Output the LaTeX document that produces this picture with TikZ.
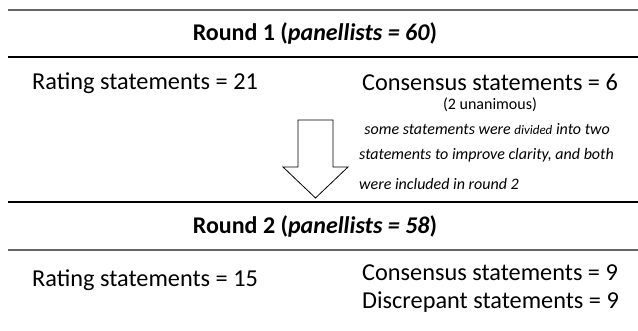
\documentclass[tikz,border=0pt]{standalone}
\usepackage{fontspec}
\setmainfont{Carlito}
\usetikzlibrary{positioning}

\begin{document}
\begin{tikzpicture}[
    x=1pt, y=-1pt,
    title/.style={font=\fontsize{24}{28}\selectfont\bfseries, inner sep=0pt},
    stat/.style={font=\fontsize{24.3}{28}\selectfont, inner sep=0pt},
    note/.style={font=\fontsize{16}{19}\selectfont\itshape, inner sep=0pt},
    rule/.style={line width=1.6pt},
    greyrule/.style={line width=2pt, gray!80!black}
]
\useasboundingbox (0,0) rectangle (638,331);

% round 1
\draw[greyrule] (8,10) -- (638,10);
\node[title] (round1) at (315,33) {Round 1 (\textit{panellists = 60})};
\draw[rule] (8,57) -- (638,57);

\node[stat, anchor=west] (rating1) at (32,83) {Rating statements = 21};
\node[stat, anchor=west] (cons1) at (362,82) {Consensus statements = 6};
\node[font=\fontsize{16}{18}\selectfont, inner sep=0pt] (unan) at (490,105) {(2 unanimous)};
\node[note, anchor=east] (note1) at (610,129) {some statements were {\fontsize{13}{15}\selectfont divided} into two};
\node[note, anchor=west] (note2) at (359,155) {statements to improve clarity, and both};
\node[note, anchor=west] (note3) at (359,184) {were included in round 2};

% arrow down
\draw[line width=0.8pt, fill=white] (298,120) -- (333,120) -- (333,167) -- (348,167)
    -- (315.5,198) -- (283,167) -- (298,167) -- cycle;

% round 2
\draw[rule] (8,202) -- (638,202);
\node[title] (round2) at (315,226) {Round 2 (\textit{panellists = 58})};
\draw[greyrule] (8,250) -- (638,250);

\node[stat, anchor=west] (rating2) at (32,280) {Rating statements = 15};
\node[stat, anchor=west] (cons2) at (362,273) {Consensus statements = 9};
\node[stat, anchor=west] (disc2) at (362,302) {Discrepant statements = 9};

\end{tikzpicture}
\end{document}
